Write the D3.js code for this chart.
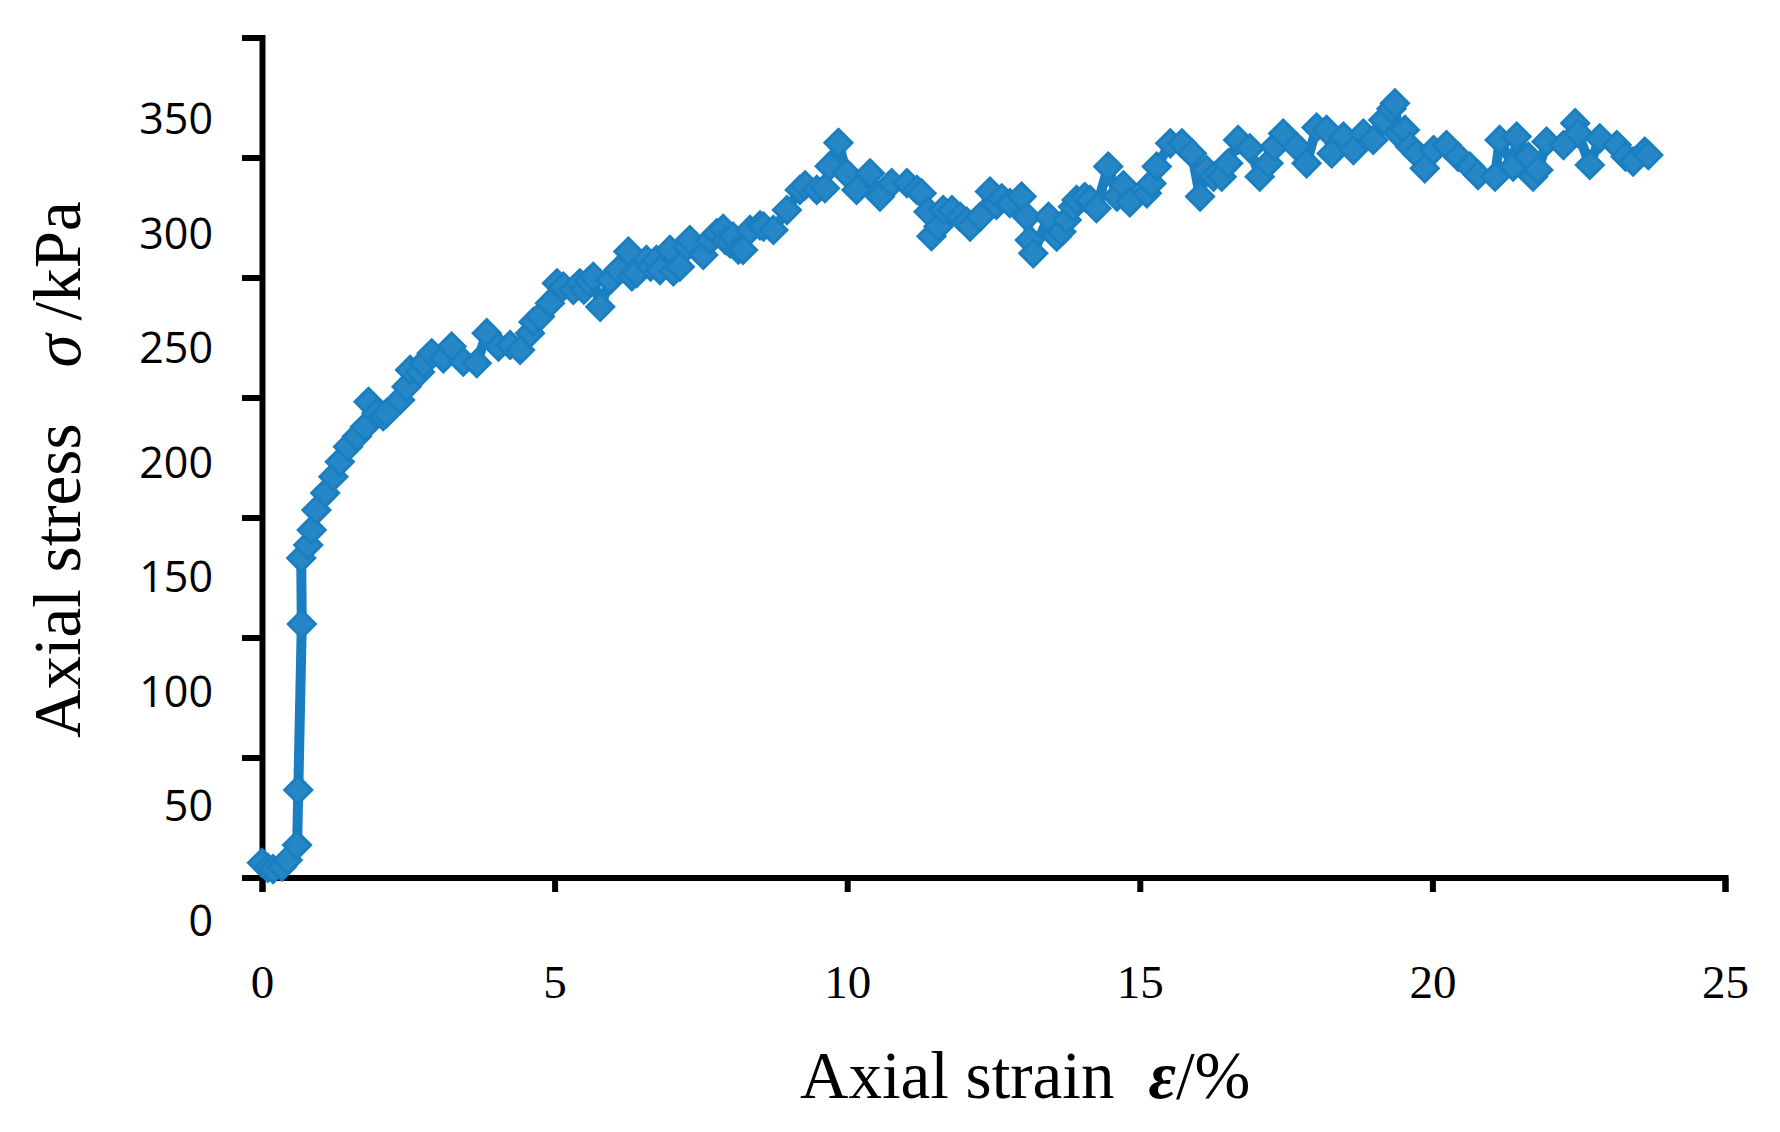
<!DOCTYPE html>
<html>
<head>
<meta charset="utf-8">
<script src="https://cdn.jsdelivr.net/npm/d3@7"></script>
<style>
  html, body { margin: 0; padding: 0; background: #ffffff; }
  svg { display: block; }
</style>
</head>
<body>
<svg id="chart" width="1780" height="1132"></svg>
<script>
// ---- data ----
const strain = [
  0.00, 0.10, 0.19, 0.34, 0.44, 0.60, 0.62, 0.68, 0.67, 0.79,
  0.85, 0.93, 1.08, 1.22, 1.33, 1.47, 1.62, 1.76, 1.82, 1.96,
  2.07, 2.13, 2.36, 2.47, 2.53, 2.70, 2.76, 2.90, 3.10, 3.24,
  3.44, 3.67, 3.84, 4.04, 4.24, 4.41, 4.58, 4.64, 4.75, 4.92,
  5.04, 5.15, 5.32, 5.43, 5.50, 5.58, 5.66, 5.78, 5.95, 6.09,
  6.26, 6.32, 6.40, 6.57, 6.64, 6.74, 6.80, 6.97, 7.03, 7.14,
  7.26, 7.31, 7.54, 7.66, 7.77, 7.88, 7.92, 8.00, 8.05, 8.14,
  8.22, 8.34, 8.51, 8.57, 8.74, 8.97, 9.19, 9.28, 9.48, 9.62,
  9.70, 9.85, 9.99, 10.16, 10.39, 10.56, 10.76, 11.02, 11.19, 11.27,
  11.39, 11.44, 11.56, 11.64, 11.79, 11.93, 12.04, 12.10, 12.27, 12.44,
  12.55, 12.64, 12.78, 12.98, 13.07, 13.12, 13.18, 13.44, 13.58, 13.66,
  13.75, 13.86, 13.92, 14.06, 14.15, 14.26, 14.46, 14.61, 14.72, 14.83,
  15.12, 15.20, 15.29, 15.52, 15.72, 15.89, 16.03, 16.14, 16.26, 16.40,
  16.51, 16.68, 16.88, 17.05, 17.20, 17.30, 17.45, 17.68, 17.85, 18.02,
  18.19, 18.28, 18.48, 18.65, 18.82, 18.99, 19.16, 19.30, 19.36, 19.41,
  19.53, 19.62, 19.73, 19.87, 20.02, 20.24, 20.44, 20.64, 20.78, 21.07,
  21.15, 21.38, 21.44, 21.64, 21.72, 21.81, 21.95, 22.24, 22.44, 22.49,
  22.69, 22.86, 23.15, 23.30, 23.43, 23.63, 23.69
];
const stress = [
  6.1, 4.0, 3.5, 4.5, 7.3, 13.5, 36.5, 105.6, 133.1, 138.5,
  144.8, 153.1, 160.2, 167.0, 173.2, 179.5, 183.7, 187.8, 198.2, 193.4,
  192.2, 193.5, 199.0, 204.5, 211.5, 210.6, 214.3, 218.4, 216.3, 221.2,
  214.9, 214.3, 226.8, 221.2, 221.9, 219.8, 226.8, 231.5, 233.7, 239.3,
  247.6, 246.2, 244.8, 247.6, 244.9, 248.3, 250.3, 237.8, 249.0, 253.1,
  260.8, 250.5, 251.8, 257.3, 254.5, 257.3, 253.1, 261.5, 252.6, 254.5,
  262.8, 265.6, 259.4, 265.6, 268.4, 270.3, 265.6, 264.2, 267.0, 261.6,
  261.5, 269.8, 271.7, 271.2, 269.8, 278.1, 286.5, 288.4, 286.5, 287.2,
  296.4, 306.1, 293.4, 286.5, 293.4, 283.7, 289.3, 289.3, 286.5, 285.1,
  277.4, 267.2, 271.2, 278.1, 278.1, 275.3, 273.3, 271.2, 275.3, 285.8,
  280.3, 283.0, 281.0, 283.7, 275.3, 265.6, 260.1, 275.3, 267.0, 269.1,
  274.0, 279.5, 282.3, 283.5, 282.3, 278.9, 296.2, 283.7, 288.4, 281.3,
  285.1, 289.2, 296.2, 305.9, 305.9, 301.7, 283.7, 294.8, 292.0, 292.0,
  297.6, 307.3, 303.8, 292.0, 297.6, 304.5, 310.0, 304.5, 297.6, 312.5,
  311.5, 301.7, 308.7, 303.1, 310.0, 307.3, 315.6, 320.3, 322.6, 310.1,
  311.5, 304.5, 301.7, 295.5, 303.1, 305.2, 300.3, 296.2, 292.7, 292.0,
  307.3, 296.2, 308.7, 300.3, 292.0, 294.8, 306.6, 305.2, 314.3, 310.1,
  296.9, 308.0, 305.2, 300.4, 298.3, 302.4, 301.0
];
const xTicks = [0, 5, 10, 15, 20, 25];
const yTicks = [0, 50, 100, 150, 200, 250, 300, 350];
const xTitle = ["Axial strain", "\u03B5", "/%"];
const yTitle = ["Axial stress", "\u03C3", "/kPa"];

// ---- drawing ----
const svg = d3.select("#chart");
const x = d3.scaleLinear().domain([0, 25]).range([262, 1725]);
const y = d3.scaleLinear().domain([0, 350]).range([877.5, 37.5]);
// tick labels in the reference sit on a slightly different spacing than the tick marks
const yLabelPos = d3.scaleLinear().domain([0, 350]).range([920, 118]);

const lineColor = "#1a7fc0";
const markerFill = "#2786c6";

// Y axis
const gy = svg.append("g")
  .attr("transform", `translate(${x(0)},0)`)
  .call(d3.axisLeft(y).tickValues(yTicks).tickSize(20).tickPadding(29).tickFormat(d3.format("d")));
gy.selectAll("path.domain, .tick line")
  .attr("stroke", "#000").attr("stroke-width", 6).attr("stroke-linejoin", "miter");
gy.selectAll(".tick text")
  .attr("fill", "#000")
  .attr("font-family", "'Open Sans', 'Noto Sans', sans-serif")
  .attr("font-size", 43)
  .attr("dy", "0.36em")
  .attr("y", d => yLabelPos(d) - y(d));

// X axis
const gx = svg.append("g")
  .attr("transform", `translate(0,${y(0)})`)
  .call(d3.axisBottom(x).tickValues(xTicks).tickSize(14.5).tickFormat(d3.format("d")));
gx.selectAll("path.domain, .tick line")
  .attr("stroke", "#000").attr("stroke-width", 6).attr("stroke-linejoin", "miter");
gx.selectAll(".tick text")
  .attr("fill", "#000")
  .attr("font-family", "'Liberation Serif', 'DejaVu Serif', serif")
  .attr("font-size", 47)
  .attr("dy", 0)
  .attr("y", 120);

// series line
const line = d3.line().x((d, i) => x(strain[i])).y((d, i) => y(stress[i]));
svg.append("path")
  .datum(stress)
  .attr("d", line)
  .attr("fill", "none")
  .attr("stroke", lineColor)
  .attr("stroke-width", 10)
  .attr("stroke-linejoin", "round");

// diamond markers
const r = 13.5;
svg.append("g").selectAll("path")
  .data(stress)
  .join("path")
  .attr("transform", (d, i) => `translate(${x(strain[i])},${y(d)})`)
  .attr("d", `M0,${-r}L${r},0L0,${r}L${-r},0Z`)
  .attr("fill", markerFill)
  .attr("stroke", lineColor)
  .attr("stroke-width", 3);

// axis titles
const xt = svg.append("text")
  .attr("x", 800).attr("y", 1098)
  .attr("font-family", "'Liberation Serif', serif")
  .attr("font-size", 67)
  .attr("fill", "#000");
xt.append("tspan").text(xTitle[0]);
xt.append("tspan").attr("dx", 34).attr("font-style", "italic").attr("font-weight", "bold").text(xTitle[1]);
xt.append("tspan").text(xTitle[2]);

const yt = svg.append("text")
  .attr("transform", "translate(80,738) rotate(-90)")
  .attr("font-family", "'Liberation Serif', serif")
  .attr("font-size", 67)
  .attr("fill", "#000");
yt.append("tspan").text(yTitle[0]);
yt.append("tspan").attr("dx", 56).attr("font-style", "italic").text(yTitle[1]);
yt.append("tspan").attr("dx", 14).text(yTitle[2]);
</script>
</body>
</html>
